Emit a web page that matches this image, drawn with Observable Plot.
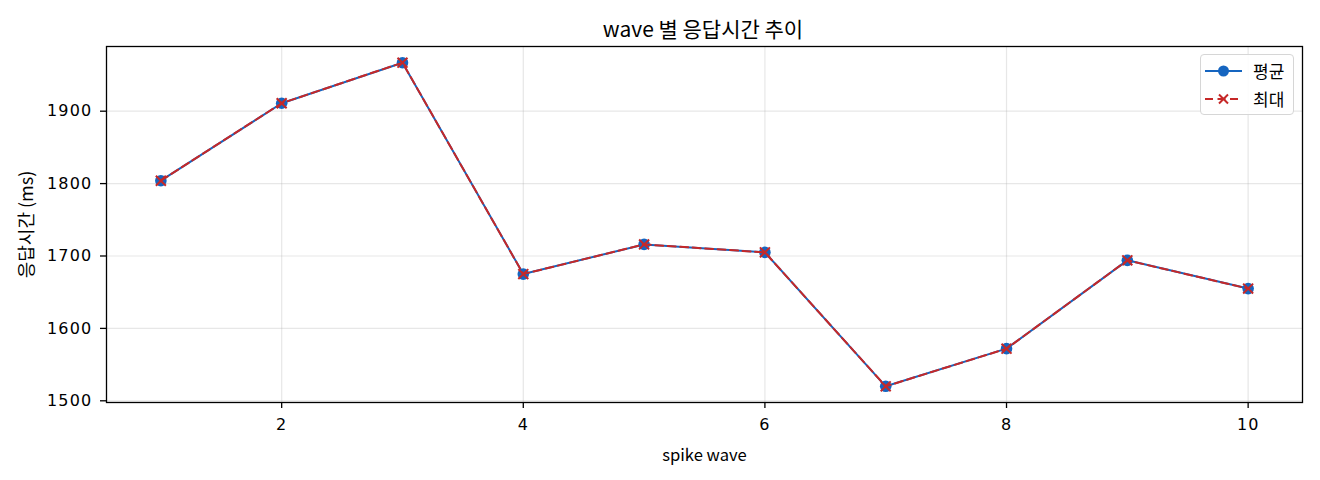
<!DOCTYPE html>
<html>
<head>
<meta charset="utf-8">
<script src="https://cdn.jsdelivr.net/npm/d3@7"></script>
<script src="https://cdn.jsdelivr.net/npm/@observablehq/plot@0.6"></script>
<style>
  html, body { margin: 0; padding: 0; background: #fff; }
  #wrap { position: relative; width: 1320px; height: 480px; font-family: "Noto Sans CJK KR", sans-serif; }
  #title { height: 40px; width: 1320px; box-sizing: border-box; padding-top: 16px; padding-left: 86px; text-align: center; font-size: 21px; line-height: 24px; color: #000; }
  #legend { position: absolute; left: 1200px; top: 54px; width: 94px; height: 61px; box-sizing: border-box; border: 1px solid #d6d6d6; border-radius: 4px; background: rgba(255,255,255,0.85); font-size: 17px; }
  .row { position: absolute; left: 4px; height: 20px; display: flex; align-items: center; }
  .row span { margin-left: 11px; line-height: 20px; }
  #chart g[aria-label="y-axis tick label"] text { letter-spacing: 1.2px; font-family: "DejaVu Sans", sans-serif; }
  #chart g[aria-label="x-axis tick label"] text { letter-spacing: 1px; font-family: "DejaVu Sans", sans-serif; }
</style>
</head>
<body>
<div id="wrap">
  <div id="title">wave 별 응답시간 추이</div>
  <div id="chart"></div>
  <div id="legend">
    <div class="row" style="top:6px">
      <svg width="37" height="20"><line x1="0" y1="10" x2="37" y2="10" stroke="#1565c0" stroke-width="2"/><circle cx="18.5" cy="10" r="5.5" fill="#1565c0"/></svg>
      <span>평균</span>
    </div>
    <div class="row" style="top:34px">
      <svg width="37" height="20"><line x1="0" y1="10" x2="37" y2="10" stroke="#c62828" stroke-width="2" stroke-dasharray="8,4.5"/><path d="M14,5.5L23,14.5M23,5.5L14,14.5" stroke="#c62828" stroke-width="2"/></svg>
      <span>최대</span>
    </div>
  </div>
</div>
<script>
const waves = [1, 2, 3, 4, 5, 6, 7, 8, 9, 10];
const meanMs = [1804, 1911, 1967, 1675, 1716, 1705, 1520, 1572, 1694, 1655];
const maxMs  = [1804, 1911, 1967, 1675, 1716, 1705, 1520, 1572, 1694, 1655];
const xTicks = [2, 4, 6, 8, 10];
const yTicks = [1500, 1600, 1700, 1800, 1900];
const xLabel = "spike wave";
const yLabel = "응답시간 (ms)";

const meanData = waves.map((w, i) => ({wave: w, ms: meanMs[i]}));
const maxData = waves.map((w, i) => ({wave: w, ms: maxMs[i]}));

const all = meanMs.concat(maxMs);
const lo = d3.min(all), hi = d3.max(all);
const pad = (hi - lo) * 0.05;
const xpad = (d3.max(waves) - d3.min(waves)) * 0.05;

const chart = Plot.plot({
  width: 1320,
  height: 440,
  marginLeft: 106,
  marginRight: 18,
  marginTop: 6,
  marginBottom: 78,
  style: {fontFamily: "'DejaVu Sans', sans-serif", fontSize: "16px", color: "#000", background: "#fff"},
  x: {domain: [d3.min(waves) - xpad, d3.max(waves) + xpad], label: null},
  y: {domain: [lo - pad, hi + pad], label: null},
  marks: [
    Plot.ruleX(xTicks, {stroke: "#b0b0b0", strokeOpacity: 0.3, strokeWidth: 1.2}),
    Plot.ruleY(yTicks, {stroke: "#b0b0b0", strokeOpacity: 0.3, strokeWidth: 1.2}),
    Plot.axisX({ticks: xTicks, tickSize: 6, tickPadding: 10, tickFormat: d => String(d), stroke: "#000", strokeWidth: 1.3, strokeOpacity: 1, fontSize: 16, label: null}),
    Plot.axisY({ticks: yTicks, tickSize: 6, tickPadding: 8, tickFormat: d => String(d), stroke: "#000", strokeWidth: 1.3, strokeOpacity: 1, fontSize: 16, label: null}),
    Plot.line(meanData, {x: "wave", y: "ms", stroke: "#1565c0", strokeWidth: 2}),
    Plot.dot(meanData, {x: "wave", y: "ms", r: 5.8, fill: "#1565c0", symbol: "circle"}),
    Plot.line(maxData, {x: "wave", y: "ms", stroke: "#c62828", strokeWidth: 2, strokeDasharray: "8,4.5"}),
    Plot.dot(maxData, {x: "wave", y: "ms", r: 4.6, stroke: "#c62828", strokeWidth: 2, symbol: "times"}),
    Plot.frame({stroke: "#000", strokeWidth: 1.3}),
    Plot.text([xLabel], {frameAnchor: "bottom", dy: 53, text: d => d, fontSize: 16.6, lineAnchor: "middle", fontFamily: "Noto Sans CJK KR"}),
    Plot.text([yLabel], {frameAnchor: "left", dx: -79, rotate: -90, text: d => d, fontSize: 18, textAnchor: "middle", lineAnchor: "middle", fontFamily: "Noto Sans CJK KR"})
  ]
});
document.getElementById("chart").appendChild(chart);
</script>
</body>
</html>
